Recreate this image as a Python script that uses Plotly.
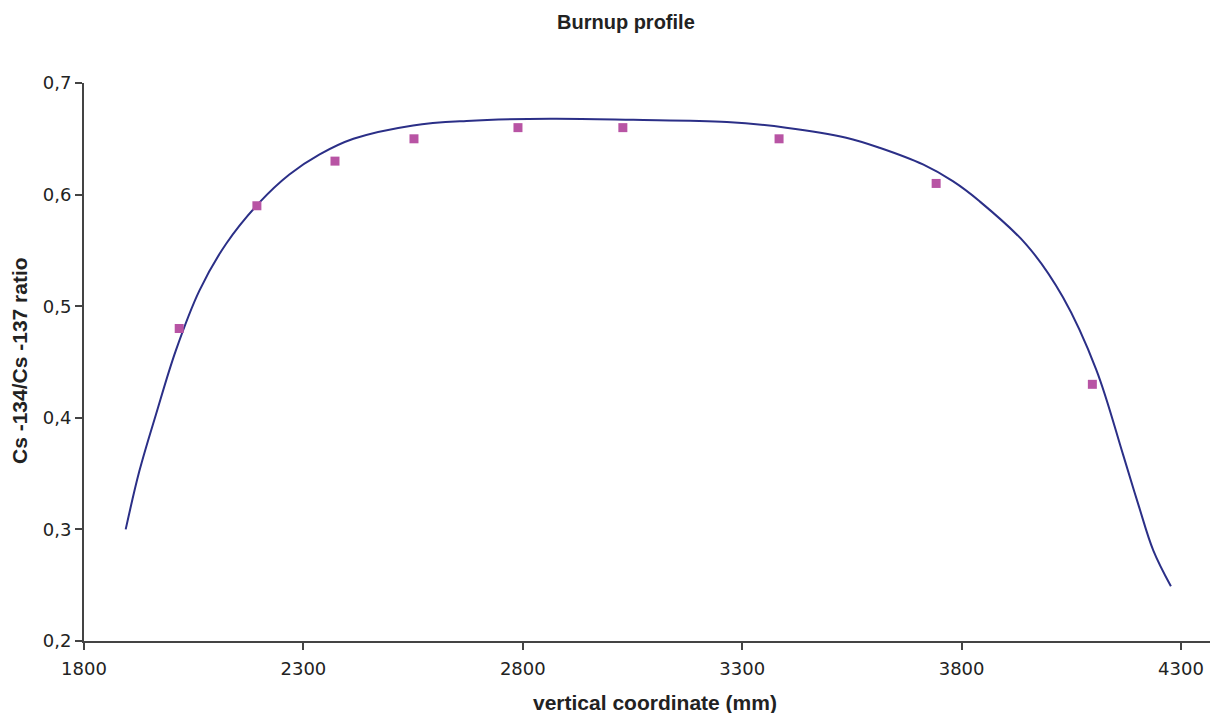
import plotly.graph_objects as go

# Measured points (markers)
meas_x = [2017, 2194, 2372, 2552, 2789, 3028, 3384, 3742, 4098]
meas_y = [0.48, 0.59, 0.63, 0.65, 0.66, 0.66, 0.65, 0.61, 0.43]

# Fitted profile (line)
fit_x = [1895, 1926, 1964, 2009, 2063, 2124, 2200, 2268, 2337, 2414, 2550, 2672,
         2862, 3052, 3265, 3400, 3537, 3613, 3712, 3780, 3841, 3948, 4031, 4107,
         4168, 4203, 4237, 4277]
fit_y = [0.300, 0.352, 0.403, 0.460, 0.514, 0.556, 0.593, 0.618, 0.636, 0.650,
         0.662, 0.666, 0.668, 0.667, 0.665, 0.660, 0.651, 0.642, 0.627, 0.612,
         0.594, 0.555, 0.508, 0.443, 0.367, 0.322, 0.281, 0.249]

x_ticks = [1800, 2300, 2800, 3300, 3800, 4300]
y_ticks = [0.2, 0.3, 0.4, 0.5, 0.6, 0.7]

TICKFONT = "DejaVu Sans, Liberation Sans, Arial, sans-serif"
FONT = "Liberation Sans, Arial, sans-serif"
AXC = "#444444"
TXT = "#222222"

# page body has an 8px margin: figure sits at (8, 8)
OFF = 8
W, H = 1220 - OFF, 713 - OFF
PL, PR, PT, PB = 84, 1210, 83, 641  # plot area in page pixels
PW, PH = PR - PL, PB - PT

fig = go.Figure()
fig.add_trace(go.Scatter(x=fit_x, y=fit_y, mode="lines",
                         line=dict(color="#2B2F87", width=2, shape="spline", smoothing=1.0),
                         showlegend=False, hoverinfo="skip"))
fig.add_trace(go.Scatter(x=meas_x, y=meas_y, mode="markers",
                         marker=dict(symbol="square", size=9, color="#B854A4"),
                         showlegend=False))

fig.update_layout(
    width=W, height=H,
    margin=dict(l=PL - OFF, r=W - (PR - OFF), t=PT - OFF, b=H - (PB - OFF)),
    paper_bgcolor="white", plot_bgcolor="white",
    separators=",.",
    font=dict(family=FONT, size=18, color=TXT),
    xaxis=dict(range=[1800, 1800 + (PR - PL) / ((1181 - 84) / 2500)], tickvals=x_ticks,
               ticktext=[str(v) for v in x_ticks],
               showgrid=False, zeroline=False, showline=True, linecolor=AXC, linewidth=2,
               ticks="outside", ticklen=7, tickcolor=AXC, tickwidth=2, ticklabelstandoff=3,
               tickfont=dict(size=18, family=TICKFONT, color=TXT)),
    yaxis=dict(range=[0.2, 0.7], tickvals=y_ticks, tickformat=".1f",
               showgrid=False, zeroline=False, showline=True, linecolor=AXC, linewidth=2,
               ticks="outside", ticklen=7, tickcolor=AXC, tickwidth=2,
               tickfont=dict(size=18, family=TICKFONT, color=TXT)),
    annotations=[
        dict(text="<b>Burnup profile</b>", xref="paper", yref="paper",
             x=(626 - PL) / PW, y=(PB - 22) / PH,
             xanchor="center", yanchor="middle", showarrow=False,
             font=dict(size=20, family=FONT, color=TXT)),
        dict(text="<b>vertical coordinate (mm)</b>", xref="paper", yref="paper",
             x=(655 - PL) / PW, y=(PB - 702) / PH,
             xanchor="center", yanchor="middle", showarrow=False,
             font=dict(size=21, family=FONT, color=TXT)),
        dict(text="<b>Cs -134/Cs -137 ratio</b>", xref="paper", yref="paper",
             x=(19 - PL) / PW, y=(PB - 361) / PH,
             xanchor="center", yanchor="middle", showarrow=False, textangle=-90,
             font=dict(size=21, family=FONT, color=TXT)),
    ],
)

fig.write_html("out.html")
